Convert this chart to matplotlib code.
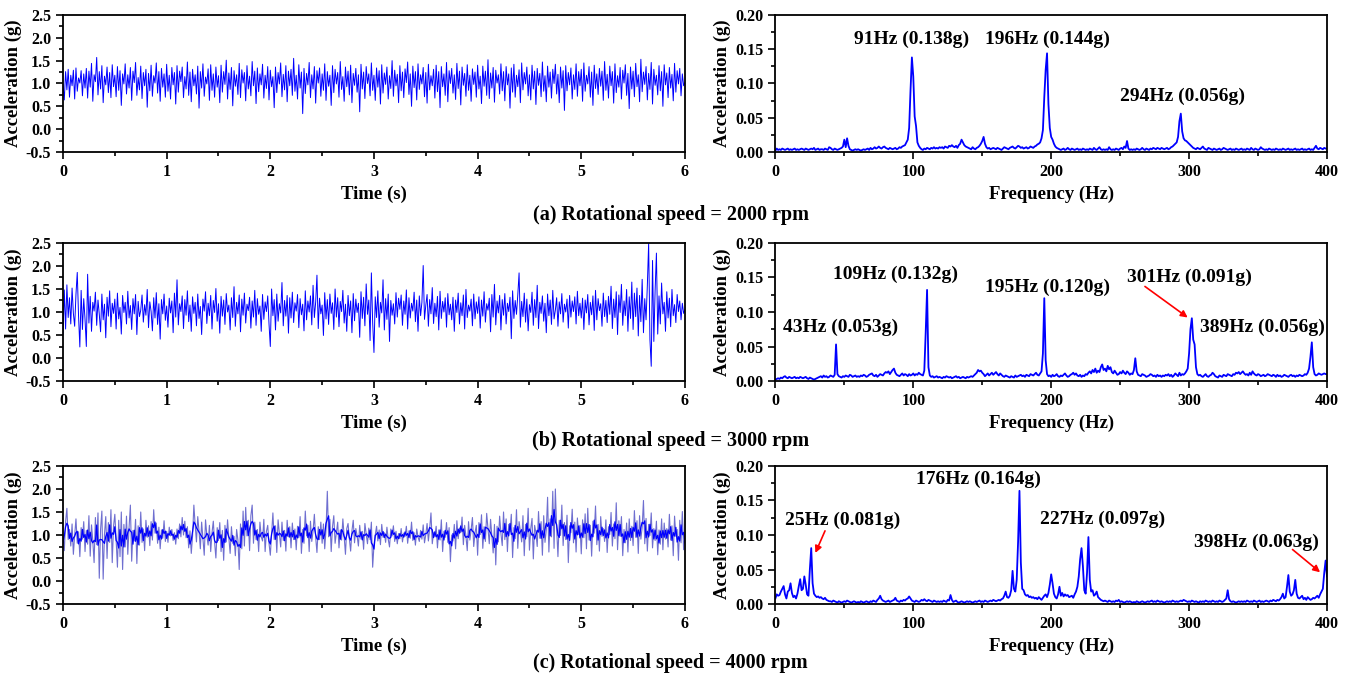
import numpy as np
import pandas as pd
import matplotlib
matplotlib.use("Agg")
import matplotlib.pyplot as plt
from matplotlib.ticker import MultipleLocator, FormatStrFormatter

plt.rcParams['font.family'] = ['Liberation Serif', 'DejaVu Serif']
plt.rcParams['font.weight'] = 'bold'
plt.rcParams['axes.labelweight'] = 'bold'
plt.rcParams['axes.unicode_minus'] = False

# time signals, in hundredths of g, 80 samples per second
sig_2000 = [
    98, 64, 126, 86, 131, 70, 118, 95, 129, 66, 134, 83, 112, 101, 128, 73, 121, 90, 133, 68,
    127, 92, 144, 61, 119, 104, 157, 75, 126, 88, 139, 58, 116, 97, 136, 80, 124, 69, 141, 93,
    118, 71, 137, 85, 128, 52, 121, 99, 143, 77, 119, 90, 135, 63, 127, 102, 146, 74, 113, 86,
    138, 67, 124, 95, 131, 48, 122, 84, 140, 72, 117, 101, 145, 79, 126, 61, 133, 92, 121, 70,
    142, 83, 118, 66, 135, 97, 124, 55, 139, 81, 127, 104, 136, 69, 115, 88, 147, 74, 125, 60,
    131, 95, 119, 77, 138, 46, 126, 90, 143, 72, 114, 99, 132, 63, 141, 85, 121, 70, 136, 92,
    117, 58, 140, 81, 126, 98, 151, 66, 123, 87, 135, 51, 128, 94, 119, 76, 144, 69, 130, 101,
    124, 62, 139, 88, 116, 73, 148, 95, 127, 56, 134, 82, 121, 97, 142, 68, 118, 89, 137, 64,
    129, 93, 115, 47, 136, 80, 124, 99, 145, 71, 120, 86, 139, 60, 127, 95, 131, 74, 155, 83,
    118, 66, 141, 90, 125, 34, 133, 78, 122, 97, 146, 69, 119, 88, 137, 57, 128, 101, 134, 72,
    121, 85, 143, 63, 126, 94, 118, 52, 139, 80, 131, 99, 124, 70, 148, 87, 115, 61, 136, 93,
    127, 75, 140, 58, 122, 96, 133, 81, 119, 38, 142, 88, 125, 67, 137, 100, 121, 73, 145, 85,
    118, 63, 134, 92, 128, 55, 141, 79, 123, 98, 136, 66, 117, 89, 150, 72, 129, 95, 120, 58,
    139, 84, 125, 69, 132, 102, 147, 76, 121, 50, 138, 91, 126, 64, 143, 87, 119, 99, 135, 71,
    124, 57, 142, 86, 117, 95, 131, 68, 140, 82, 126, 47, 137, 93, 121, 74, 146, 60, 128, 100,
    133, 79, 119, 65, 144, 89, 127, 53, 136, 96, 122, 72, 141, 85, 118, 61, 132, 98, 125, 70,
    140, 88, 116, 56, 138, 94, 127, 74, 152, 67, 123, 90, 135, 59, 129, 101, 119, 77, 143, 84,
    126, 62, 137, 97, 121, 46, 134, 81, 142, 70, 118, 93, 130, 58, 145, 86, 124, 99, 136, 73,
    119, 64, 140, 88, 127, 54, 133, 96, 122, 71, 147, 83, 117, 60, 138, 92, 125, 68, 131, 100,
    142, 77, 120, 58, 136, 90, 128, 41, 139, 84, 124, 97, 134, 66, 119, 87, 143, 72, 126, 95,
    131, 61, 145, 83, 118, 99, 137, 70, 125, 52, 140, 89, 121, 76, 133, 94, 127, 63, 148, 85,
    120, 68, 138, 95, 126, 57, 143, 80, 117, 92, 135, 66, 129, 101, 141, 74, 122, 45, 136, 88,
    127, 71, 144, 93, 119, 60, 153, 82, 125, 98, 137, 64, 122, 87, 146, 55, 131, 96, 118, 75,
    139, 84, 126, 50, 141, 97, 123, 69, 135, 90, 120, 62, 144, 81, 128, 99, 133, 73, 121, 95,
    102,
]

sig_3000 = [
    52, 148, 63, 159, 88, 131, 74, 152, 97, 69, 138, 186, 91, 24, 147, 62, 129, 84, 25, 182,
    76, 134, 58, 121, 102, 143, 71, 126, 95, 57, 139, 83, 117, 44, 132, 91, 146, 68, 119, 97,
    128, 63, 141, 85, 110, 52, 136, 99, 121, 74, 145, 87, 114, 62, 129, 96, 138, 51, 123, 90,
    104, 137, 78, 116, 93, 149, 66, 122, 101, 59, 131, 87, 142, 73, 118, 41, 127, 96, 139, 82,
    113, 67, 130, 98, 124, 55, 141, 89, 170, 72, 118, 101, 135, 64, 127, 93, 146, 79, 115, 58,
    133, 97, 121, 70, 139, 86, 112, 51, 128, 102, 144, 75, 119, 92, 136, 63, 125, 99, 151, 80,
    118, 54, 134, 91, 126, 73, 140, 100, 115, 61, 131, 88, 155, 69, 121, 96, 137, 57, 128, 93,
    141, 76, 117, 103, 132, 65, 124, 89, 147, 71, 129, 95, 113, 58, 138, 84, 122, 101, 135, 74,
    25, 150, 92, 127, 61, 139, 80, 118, 98, 164, 70, 125, 91, 136, 54, 131, 87, 143, 77, 120,
    102, 138, 66, 129, 94, 117, 59, 146, 83, 124, 100, 135, 72, 158, 88, 121, 180, 64, 130, 96,
    115, 49, 142, 85, 127, 73, 139, 97, 120, 62, 150, 89, 131, 68, 123, 101, 147, 76, 117, 58,
    136, 92, 124, 55, 140, 81, 128, 99, 119, 45, 144, 86, 132, 70, 161, 95, 126, 38, 185, 77,
    12, 133, 88, 146, 67, 121, 98, 170, 61, 129, 84, 139, 36, 125, 93, 118, 74, 142, 89, 130,
    106, 137, 71, 124, 95, 148, 63, 131, 87, 119, 102, 143, 79, 126, 58, 135, 92, 121, 201, 84,
    114, 138, 69, 127, 96, 153, 75, 119, 90, 134, 61, 145, 86, 123, 100, 131, 67, 140, 94, 117,
    83, 132, 58, 126, 99, 141, 74, 120, 92, 137, 63, 149, 88, 115, 102, 128, 70, 139, 85, 122,
    97, 133, 65, 126, 91, 144, 78, 118, 104, 130, 57, 138, 89, 160, 72, 124, 98, 136, 61, 127,
    93, 140, 74, 119, 101, 132, 42, 146, 86, 125, 95, 137, 185, 67, 123, 90, 141, 78, 128, 59,
    116, 99, 143, 71, 127, 88, 158, 64, 121, 97, 135, 80, 119, 55, 139, 92, 126, 73, 147, 85,
    104, 131, 69, 122, 96, 140, 78, 117, 100, 128, 65, 136, 89, 124, 101, 133, 74, 145, 92, 119,
    87, 130, 62, 126, 98, 138, 72, 121, 94, 135, 60, 147, 83, 129, 103, 118, 69, 141, 90, 125,
    77, 134, 95, 156, 64, 128, 88, 144, 51, 137, 99, 160, 71, 124, 92, 149, 58, 133, 86, 165,
    62, 141, 90, 152, 48, 136, 79, 171, 55, 129, 83, 158, 250, 40, -18, 212, 36, 147, 228, 52,
    135, 74, 163, 96, 121, 58, 144, 87, 130, 68, 149, 92, 116, 77, 138, 101, 124, 83, 119, 97,
    105,
]

sig_4000 = [
    100, 66, 129, 158, 90, 112, 76, 124, 58, 99, 135, 82, 107, 53, 116, 91, 129, 64, 110, 80,
    142, 54, 122, 87, 40, 138, 79, 148, 6, 113, 152, 4, 101, 140, 49, 127, 84, 155, 40, 119,
    145, 90, 30, 132, 53, 150, 25, 123, 74, 141, 58, 117, 165, 43, 110, 87, 134, 38, 120, 78,
    150, 84, 113, 66, 132, 95, 120, 77, 129, 89, 155, 104, 126, 82, 117, 70, 111, 93, 131, 86,
    108, 84, 117, 98, 112, 88, 105, 80, 113, 92, 124, 96, 138, 100, 130, 94, 118, 72, 109, 60,
    98, 165, 122, 85, 140, 108, 70, 128, 92, 56, 133, 100, 78, 121, 64, 105, 130, 84, 50, 116,
    88, 127, 64, 110, 45, 121, 85, 133, 94, 60, 118, 82, 97, 55, 112, 89, 25, 124, 70, 152,
    76, 160, 98, 132, 66, 142, 165, 82, 128, 90, 112, 64, 128, 96, 87, 134, 64, 108, 121, 82,
    56, 103, 148, 90, 120, 62, 133, 104, 74, 128, 88, 110, 65, 132, 96, 118, 72, 126, 90, 113,
    68, 119, 94, 140, 60, 112, 82, 152, 98, 121, 64, 130, 86, 109, 145, 95, 62, 118, 90, 128,
    82, 124, 70, 112, 195, 96, 134, 64, 118, 142, 82, 106, 128, 72, 111, 89, 135, 97, 58, 114,
    125, 92, 65, 109, 132, 83, 114, 98, 76, 121, 91, 108, 69, 125, 102, 81, 115, 90, 128, 30,
    78, 100, 119, 87, 111, 79, 123, 95, 105, 84, 117, 91, 74, 113, 98, 120, 86, 108, 81, 103,
    92, 114, 85, 104, 97, 119, 82, 109, 93, 128, 88, 105, 78, 113, 96, 86, 110, 91, 122, 83,
    101, 125, 87, 114, 148, 81, 105, 97, 119, 72, 111, 89, 133, 64, 108, 95, 127, 84, 116, 42,
    100, 87, 123, 70, 131, 92, 115, 105, 139, 79, 121, 97, 66, 129, 89, 112, 138, 75, 105, 121,
    56, 127, 101, 144, 71, 118, 86, 147, 113, 81, 134, 99, 61, 123, 35, 119, 85, 141, 103, 77,
    150, 90, 135, 64, 123, 107, 145, 51, 116, 92, 155, 71, 129, 108, 85, 142, 55, 123, 96, 158,
    67, 114, 136, 48, 121, 105, 75, 151, 93, 129, 56, 142, 84, 111, 182, 63, 135, 96, 195, 71,
    200, 114, 53, 132, 99, 165, 77, 127, 90, 143, 40, 120, 105, 156, 83, 128, 63, 137, 101, 121,
    59, 133, 94, 146, 70, 158, 89, 121, 54, 130, 104, 163, 79, 123, 65, 140, 97, 114, 86, 133,
    62, 118, 101, 149, 76, 124, 92, 170, 68, 131, 97, 140, 55, 112, 83, 126, 63, 135, 88, 119,
    77, 153, 95, 131, 60, 142, 91, 117, 175, 81, 136, 65, 123, 99, 148, 72, 114, 88, 130, 57,
    111, 80, 135, 68, 126, 91, 114, 74, 145, 89, 120, 55, 141, 97, 112, 45, 132, 83, 151, 68,
    98,
]

# FFT amplitude, in thousandths of g, 1 Hz steps from 0 to 400 Hz
fft_2000 = [
    2, 5, 3, 4, 3, 5, 4, 3, 4, 5, 3, 4, 3, 4, 5, 3, 4, 3, 4, 5,
    4, 3, 5, 4, 3, 4, 5, 4, 6, 3, 4, 5, 3, 4, 4, 3, 5, 4, 3, 7,
    6, 4, 3, 5, 4, 3, 4, 5, 6, 8, 18, 7, 20, 9, 4, 3, 2, 3, 4, 3,
    4, 3, 2, 3, 4, 3, 4, 5, 3, 6, 4, 5, 7, 5, 6, 8, 6, 5, 7, 8,
    6, 5, 4, 6, 5, 4, 5, 6, 4, 5, 7, 6, 8, 9, 10, 14, 18, 35, 90, 138,
    110, 52, 38, 14, 9, 6, 4, 3, 5, 4, 6, 5, 4, 6, 5, 7, 5, 6, 5, 7,
    6, 7, 5, 8, 7, 6, 9, 8, 10, 8, 7, 9, 6, 10, 12, 18, 14, 10, 8, 7,
    6, 5, 4, 7, 5, 4, 6, 7, 9, 12, 16, 22, 12, 7, 5, 6, 4, 5, 6, 5,
    4, 6, 5, 4, 3, 5, 7, 6, 5, 4, 6, 7, 8, 6, 5, 7, 9, 8, 6, 7,
    5, 6, 7, 5, 6, 8, 7, 6, 8, 9, 11, 12, 14, 20, 32, 80, 120, 144, 70, 35,
    22, 18, 12, 8, 6, 5, 4, 3, 4, 5, 3, 4, 6, 4, 3, 5, 4, 3, 4, 5,
    3, 4, 3, 5, 4, 3, 4, 3, 5, 4, 3, 6, 4, 3, 5, 7, 4, 3, 4, 3,
    4, 3, 7, 4, 3, 4, 3, 5, 4, 3, 5, 6, 4, 8, 6, 16, 5, 3, 4, 3,
    4, 3, 5, 4, 3, 4, 6, 4, 3, 5, 4, 3, 5, 4, 6, 5, 4, 6, 5, 4,
    6, 5, 4, 5, 6, 4, 5, 7, 8, 10, 12, 14, 22, 45, 56, 30, 20, 17, 16, 14,
    12, 10, 8, 6, 5, 4, 6, 5, 4, 6, 8, 5, 4, 3, 6, 5, 4, 3, 5, 4,
    3, 4, 5, 3, 4, 6, 5, 4, 3, 4, 5, 3, 4, 3, 5, 4, 3, 4, 5, 3,
    4, 3, 5, 4, 3, 6, 4, 3, 5, 4, 3, 4, 7, 5, 4, 3, 4, 3, 5, 4,
    3, 4, 3, 5, 4, 3, 4, 3, 5, 4, 3, 4, 5, 3, 4, 3, 4, 5, 3, 4,
    3, 4, 5, 3, 4, 3, 4, 5, 3, 4, 3, 6, 9, 5, 4, 6, 5, 4, 6, 5,
    5,
]

fft_3000 = [
    2, 3, 4, 3, 5, 4, 6, 7, 5, 4, 6, 5, 4, 5, 6, 4, 5, 4, 6, 5,
    4, 5, 6, 4, 3, 5, 4, 3, 2, 3, 4, 5, 6, 7, 5, 8, 6, 7, 5, 6,
    8, 7, 6, 9, 53, 10, 7, 6, 5, 7, 6, 8, 7, 6, 9, 8, 6, 7, 8, 6,
    7, 6, 8, 7, 9, 8, 6, 7, 9, 10, 11, 8, 7, 9, 6, 8, 10, 9, 8, 11,
    13, 12, 14, 10, 13, 16, 18, 12, 9, 8, 7, 9, 11, 8, 10, 9, 7, 10, 8, 9,
    11, 8, 10, 9, 12, 10, 9, 8, 15, 70, 132, 20, 8, 6, 7, 5, 6, 7, 5, 6,
    5, 4, 6, 5, 7, 6, 5, 6, 4, 5, 6, 7, 5, 6, 4, 5, 6, 5, 4, 6,
    5, 6, 7, 6, 8, 10, 12, 16, 14, 15, 12, 10, 7, 9, 11, 8, 10, 12, 9, 11,
    13, 10, 8, 11, 9, 7, 6, 8, 7, 6, 5, 7, 6, 5, 8, 6, 7, 8, 9, 7,
    8, 6, 9, 8, 7, 10, 9, 8, 10, 12, 9, 8, 11, 14, 40, 120, 30, 10, 7, 8,
    6, 9, 7, 8, 10, 7, 6, 8, 7, 9, 11, 8, 6, 7, 9, 10, 12, 9, 11, 8,
    7, 9, 6, 8, 7, 10, 9, 12, 14, 11, 16, 13, 18, 12, 15, 13, 20, 24, 16, 18,
    14, 22, 17, 20, 13, 11, 15, 12, 9, 10, 13, 11, 15, 12, 10, 14, 12, 9, 11, 10,
    16, 33, 14, 9, 8, 7, 10, 9, 8, 6, 7, 8, 10, 9, 7, 8, 6, 9, 7, 8,
    6, 8, 7, 9, 8, 10, 7, 9, 6, 8, 11, 9, 7, 12, 8, 10, 9, 11, 14, 18,
    40, 75, 91, 60, 53, 20, 10, 8, 9, 7, 6, 8, 10, 7, 6, 8, 9, 12, 10, 7,
    6, 5, 8, 7, 6, 9, 8, 7, 10, 9, 8, 7, 10, 9, 12, 11, 13, 10, 12, 14,
    11, 9, 10, 8, 12, 9, 14, 11, 9, 8, 10, 9, 7, 8, 9, 7, 8, 10, 9, 8,
    7, 9, 8, 6, 9, 7, 8, 6, 7, 9, 8, 7, 6, 8, 9, 7, 8, 6, 8, 7,
    9, 8, 7, 8, 10, 9, 12, 18, 35, 56, 20, 10, 8, 9, 11, 10, 9, 10, 11, 10,
    10,
]

fft_4000 = [
    8, 14, 12, 13, 18, 22, 26, 14, 8, 18, 20, 30, 16, 10, 12, 8, 15, 26, 36, 20,
    22, 40, 28, 14, 12, 50, 81, 30, 15, 12, 10, 11, 9, 10, 8, 7, 9, 6, 5, 4,
    4, 3, 5, 4, 3, 2, 4, 3, 2, 3, 4, 3, 5, 4, 3, 2, 3, 4, 3, 2,
    3, 2, 4, 3, 2, 3, 4, 3, 2, 4, 3, 5, 4, 3, 6, 8, 12, 7, 5, 4,
    3, 4, 5, 3, 4, 5, 6, 9, 5, 4, 3, 5, 4, 6, 5, 7, 8, 11, 8, 5,
    4, 3, 5, 4, 3, 4, 6, 5, 7, 5, 4, 6, 5, 4, 3, 5, 4, 3, 4, 3,
    4, 3, 5, 4, 3, 6, 5, 13, 6, 3, 4, 5, 3, 2, 3, 4, 3, 2, 3, 4,
    3, 4, 3, 2, 3, 4, 3, 4, 5, 3, 4, 3, 5, 4, 3, 4, 5, 4, 6, 5,
    4, 5, 6, 5, 7, 8, 12, 18, 10, 9, 12, 20, 48, 22, 18, 35, 90, 164, 60, 22,
    20, 14, 12, 13, 10, 11, 9, 10, 8, 9, 7, 10, 8, 6, 9, 12, 14, 10, 16, 28,
    43, 30, 15, 10, 8, 14, 25, 12, 16, 11, 14, 12, 13, 10, 11, 12, 9, 14, 18, 25,
    40, 65, 81, 55, 20, 15, 45, 97, 35, 18, 20, 12, 14, 18, 10, 8, 6, 5, 4, 5,
    4, 3, 5, 4, 3, 4, 3, 5, 4, 6, 3, 4, 3, 2, 3, 4, 3, 4, 3, 2,
    3, 2, 4, 3, 2, 3, 4, 3, 2, 3, 4, 3, 4, 5, 3, 4, 3, 5, 4, 3,
    4, 3, 2, 3, 4, 3, 4, 3, 5, 4, 3, 4, 3, 4, 5, 4, 6, 5, 4, 3,
    4, 3, 5, 4, 3, 4, 3, 2, 4, 3, 4, 3, 5, 4, 3, 4, 3, 5, 4, 3,
    4, 3, 5, 4, 3, 4, 6, 8, 20, 7, 4, 3, 4, 3, 2, 3, 4, 3, 4, 3,
    4, 3, 5, 4, 3, 4, 3, 5, 4, 3, 4, 5, 3, 4, 3, 4, 5, 4, 3, 5,
    4, 6, 5, 4, 6, 5, 7, 10, 15, 8, 10, 25, 42, 18, 12, 14, 20, 35, 15, 9,
    8, 10, 12, 7, 9, 6, 10, 8, 6, 7, 9, 8, 10, 12, 9, 14, 18, 22, 45, 63,
    40,
]

captions = ['(a) Rotational speed = 2000 rpm',
            '(b) Rotational speed = 3000 rpm',
            '(c) Rotational speed = 4000 rpm']

# peak labels: text, (x, y) of the text centre, arrow start/end or None
labels_2000 = [('91Hz (0.138g)', 99, 0.165, None),
               ('196Hz (0.144g)', 197, 0.165, None),
               ('294Hz (0.056g)', 295, 0.081, None)]
labels_3000 = [('43Hz (0.053g)', 47, 0.078, None),
               ('109Hz (0.132g)', 87, 0.155, None),
               ('195Hz (0.120g)', 197, 0.135, None),
               ('301Hz (0.091g)', 300, 0.150, ((268, 0.137), (299, 0.092))),
               ('389Hz (0.056g)', 353, 0.078, None)]
labels_4000 = [('25Hz (0.081g)', 49, 0.121, ((36, 0.106), (29, 0.074))),
               ('176Hz (0.164g)', 147, 0.181, None),
               ('227Hz (0.097g)', 237, 0.122, None),
               ('398Hz (0.063g)', 349, 0.090, ((375, 0.079), (395, 0.046)))]

signals = [sig_2000, sig_3000, sig_4000]
spectra = [fft_2000, fft_3000, fft_4000]
peak_labels = [labels_2000, labels_3000, labels_4000]

fig = plt.figure(figsize=(13.52, 6.77), dpi=100)

rows = [(0.7755, 0.2024), (0.4372, 0.2039), (0.1078, 0.2039)]
cap_y = [0.682, 0.349, 0.021]


def style_axis(ax):
    for s in ax.spines.values():
        s.set_linewidth(1.3)
    ax.tick_params(which='both', direction='out', labelsize=11.5, width=1.2,
                   top=False, right=False)
    ax.tick_params(which='major', length=5)
    ax.tick_params(which='minor', length=3)


for i in range(3):
    y0, h = rows[i]

    # time domain
    ax1 = fig.add_axes([0.0466, y0, 0.460, h])
    sig = np.array(signals[i]) / 100.0
    t = np.linspace(0, 6, len(sig))
    if i == 2:
        # raw trace underneath, smoothed trace on top
        ax1.plot(t, sig, color='#6f6fd0', lw=0.8)
        smooth = pd.Series(sig).rolling(3, center=True, min_periods=1).mean()
        ax1.plot(t, smooth, color='#0000ff', lw=0.9)
    else:
        ax1.plot(t, sig, color='#0000ff', lw=0.7)
    ax1.set_xlim(0, 6)
    ax1.set_ylim(-0.5, 2.5)
    ax1.xaxis.set_major_locator(MultipleLocator(1))
    ax1.xaxis.set_minor_locator(MultipleLocator(0.5))
    ax1.yaxis.set_major_locator(MultipleLocator(0.5))
    ax1.yaxis.set_minor_locator(MultipleLocator(0.25))
    ax1.yaxis.set_major_formatter(FormatStrFormatter('%.1f'))
    ax1.set_xlabel('Time (s)', fontsize=13.5, labelpad=4)
    ax1.set_ylabel('Acceleration (g)', fontsize=13.5, labelpad=3)
    style_axis(ax1)

    # frequency domain
    ax2 = fig.add_axes([0.5735, y0, 0.4080, h])
    amp = np.array(spectra[i]) / 1000.0
    f = np.linspace(0, 400, len(amp))
    ax2.plot(f, amp, color='#0000ff', lw=1.3)
    ax2.set_xlim(0, 400)
    ax2.set_ylim(0, 0.2)
    ax2.xaxis.set_major_locator(MultipleLocator(100))
    ax2.xaxis.set_minor_locator(MultipleLocator(50))
    ax2.yaxis.set_major_locator(MultipleLocator(0.05))
    ax2.yaxis.set_minor_locator(MultipleLocator(0.025))
    ax2.yaxis.set_major_formatter(FormatStrFormatter('%.2f'))
    ax2.set_xlabel('Frequency (Hz)', fontsize=13.5, labelpad=4)
    ax2.set_ylabel('Acceleration (g)', fontsize=13.5, labelpad=3)
    style_axis(ax2)

    for text, x, y, arrow in peak_labels[i]:
        ax2.text(x, y, text, fontsize=14, fontweight='bold',
                 ha='center', va='center')
        if arrow is not None:
            ax2.annotate('', xy=arrow[1], xytext=arrow[0],
                         arrowprops=dict(arrowstyle='-|>', color='red',
                                         lw=1.2, mutation_scale=10,
                                         shrinkA=0, shrinkB=0))

    fig.text(0.496, cap_y[i], captions[i], fontsize=14.5, fontweight='bold',
             ha='center', va='center')

fig.savefig('out.png', dpi=100)
